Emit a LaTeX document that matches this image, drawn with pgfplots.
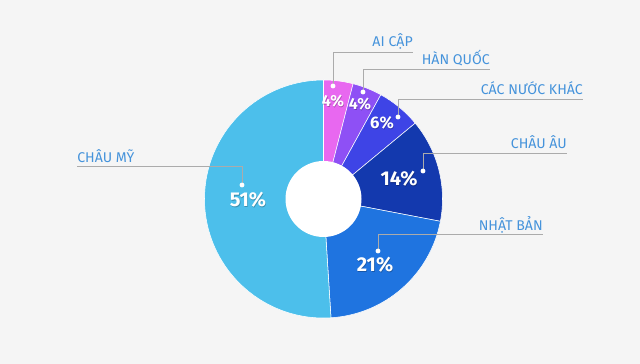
\documentclass[border=0pt]{standalone}
\usepackage{pgfplots}
\pgfplotsset{compat=1.18}
\usepackage{pgfplotstable}
\usepackage{fontspec}
\setmainfont{Fira Sans}
\definecolor{bg}{HTML}{F5F5F5}
\definecolor{cA}{HTML}{E868F0}
\definecolor{cB}{HTML}{8E50F5}
\definecolor{cC}{HTML}{3E44E6}
\definecolor{cD}{HTML}{1339AE}
\definecolor{cE}{HTML}{1F74E0}
\definecolor{cF}{HTML}{4CBFEB}
\definecolor{lab}{HTML}{4593DB}
\definecolor{lead}{HTML}{ABABAB}

\pgfplotstableread[col sep=semicolon]{
name;value;color
AI CẬP;4;cA
HÀN QUỐC;4;cB
CÁC NƯỚC KHÁC;6;cC
CHÂU ÂU;14;cD
NHẬT BẢN;21;cE
CHÂU MỸ;51;cF
}\slices

\def\cx{323.5}
\def\cy{165}
\def\Rout{89.25pt}
\def\Rin{28.5pt}

\tikzset{
  pct/.style={font=\bfseries\fontsize{#1}{#1}\selectfont, text=white, inner sep=0pt},
  pctsh/.style={font=\bfseries\fontsize{#1}{#1}\selectfont, text=black, opacity=0.25, inner sep=0pt},
  nm/.style={font=\fontsize{10.6}{11}\selectfont, text=lab, inner sep=0pt},
}

\begin{document}
\begin{tikzpicture}
\begin{axis}[
  x=0.75pt, y=0.75pt,
  xmin=0, xmax=640, ymin=0, ymax=364,
  hide axis, clip=false, scale only axis,
]
\pgfplotsextra{
  \fill[bg] (axis cs:0,0) rectangle (axis cs:640,364);
  \gdef\cum{0}
  \foreach \i in {0,...,5}{
    \pgfplotstablegetelem{\i}{value}\of{\slices}
    \edef\v{\pgfplotsretval}
    \pgfmathsetmacro\aS{90-3.6*\cum}
    \pgfmathsetmacro\aE{90-3.6*(\cum+\v)}
    \pgfmathsetmacro\cumnext{\cum+\v}
    \global\let\cum\cumnext
    \pgfplotstablegetelem{\i}{color}\of{\slices}
    \edef\c{\pgfplotsretval}
    \filldraw[fill=\c, draw=white, line width=0.4pt, line join=round]
      (axis cs:\cx,\cy) -- ++(\aS:\Rout) arc[start angle=\aS, end angle=\aE, radius=\Rout] -- cycle;
  }
  \fill[white] (axis cs:\cx,\cy) circle[radius=\Rin];
}
% leader lines
\addplot[lead, line width=0.75pt, no marks] coordinates {(333,278) (333,311) (413,311)};
\addplot[lead, line width=0.75pt, no marks] coordinates {(363,272) (363,294) (490,294)};
\addplot[lead, line width=0.75pt, no marks] coordinates {(398,247) (398,264) (583,264)};
\addplot[lead, line width=0.75pt, no marks] coordinates {(423,193) (423,210) (567,210)};
\addplot[lead, line width=0.75pt, no marks] coordinates {(378,113) (378,129) (543,129)};
\addplot[lead, line width=0.75pt, no marks] coordinates {(242,179) (242,197) (77,197)};
% dots
\addplot[only marks, mark=*, mark size=1.6pt, white, mark options={draw=white, fill=white}] coordinates {
(333,278) (363,272) (398,247) (423,193) (378,113) (242,179)};
% names
\node[nm, anchor=base east] at (axis cs:413,317.5) {AI CẬP};
\node[nm, anchor=base east] at (axis cs:490,299.5) {HÀN QUỐC};
\node[nm, anchor=base east] at (axis cs:583,269) {CÁC NƯỚC KHÁC};
\node[nm, anchor=base east] at (axis cs:567,215) {CHÂU ÂU};
\node[nm, anchor=base east] at (axis cs:543,133.5) {NHẬT BẢN};
\node[nm, anchor=base west] at (axis cs:77,201.5) {CHÂU MỸ};
% percentages (shadow + text)
\node[pctsh=12] at (axis cs:333.6,262.4) {4\%};
\node[pct=12] at (axis cs:333,263) {4\%};
\node[pctsh=12] at (axis cs:360.6,259.4) {4\%};
\node[pct=12] at (axis cs:360,260) {4\%};
\node[pctsh=12.5] at (axis cs:382.6,240.4) {6\%};
\node[pct=12.5] at (axis cs:382,241) {6\%};
\node[pctsh=15] at (axis cs:399.6,184.4) {14\%};
\node[pct=15] at (axis cs:399,185) {14\%};
\node[pctsh=15] at (axis cs:375.6,98.4) {21\%};
\node[pct=15] at (axis cs:375,99) {21\%};
\node[pctsh=15] at (axis cs:248.6,163.4) {51\%};
\node[pct=15] at (axis cs:248,164) {51\%};
\end{axis}
\end{tikzpicture}
\end{document}
